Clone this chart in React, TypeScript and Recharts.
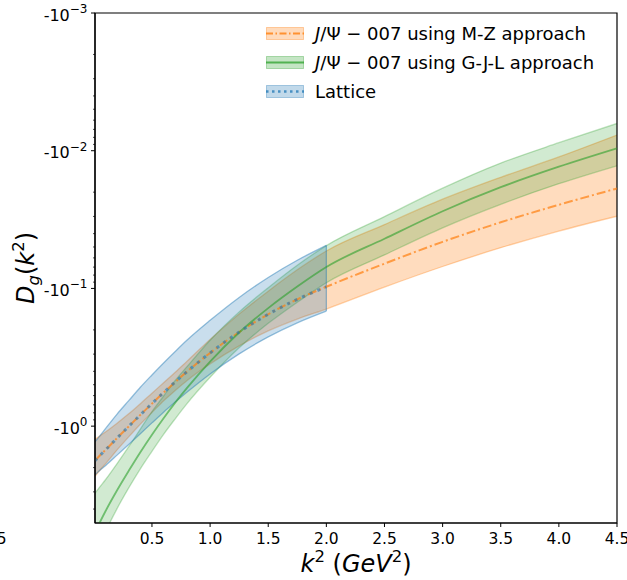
import React from 'react';
import { ComposedChart, Area, Line, XAxis, YAxis, Legend, ReferenceArea, ReferenceLine } from 'recharts';

// k^2 sample points (GeV^2)
const kValues = [0.01, 0.05, 0.1, 0.2, 0.3, 0.4, 0.5, 0.6, 0.7, 0.8, 1.0, 1.25, 1.5, 1.75, 2.0, 2.5, 3.0, 3.5, 4.0, 4.5];

// |D_g| magnitudes (plotted as -value on a log axis)
const mzCenter = [1.78, 1.64, 1.49, 1.22, 1.005, 0.828, 0.686, 0.57, 0.478, 0.403, 0.294, 0.2075, 0.154, 0.12, 0.0973, 0.0661, 0.0459, 0.0331, 0.0247, 0.0188];
const mzLow = [1.246, 1.181, 1.103, 0.952, 0.814, 0.687, 0.576, 0.4845, 0.406, 0.3385, 0.235, 0.1536, 0.1047, 0.0732, 0.0535, 0.0344, 0.0225, 0.0156, 0.0111, 0.0077];
const mzHigh = [2.314, 2.099, 1.877, 1.488, 1.196, 0.969, 0.796, 0.6555, 0.55, 0.4675, 0.353, 0.2615, 0.2033, 0.1668, 0.1411, 0.0978, 0.0693, 0.0506, 0.0383, 0.0299];

const gjlCenter = [5.9, 5.03, 4.15, 2.92, 2.11, 1.545, 1.153, 0.875, 0.675, 0.53, 0.34, 0.209, 0.139, 0.0969, 0.0699, 0.0436, 0.0275, 0.0184, 0.01306, 0.0096];
const gjlLow = [3.07, 2.77, 2.45, 1.87, 1.41, 1.05, 0.784, 0.604, 0.466, 0.371, 0.238, 0.148, 0.0987, 0.0678, 0.0489, 0.0301, 0.0187, 0.0123, 0.00875, 0.00634];
const gjlHigh = [8.73, 7.29, 5.85, 3.97, 2.81, 2.04, 1.522, 1.146, 0.884, 0.689, 0.442, 0.27, 0.1793, 0.126, 0.0909, 0.0571, 0.0363, 0.0245, 0.01737, 0.01286];

// Lattice data stops at k^2 = 2.0
const latCenter = [1.78, 1.64, 1.49, 1.22, 1.005, 0.828, 0.686, 0.57, 0.478, 0.403, 0.294, 0.2075, 0.154, 0.12, 0.0973];
const latLow = [1.299, 1.181, 1.043, 0.817, 0.653, 0.522, 0.425, 0.348, 0.287, 0.238, 0.1705, 0.1162, 0.0832, 0.0624, 0.0487];
const latHigh = [2.261, 2.099, 1.937, 1.623, 1.357, 1.134, 0.947, 0.792, 0.669, 0.568, 0.4175, 0.2988, 0.2248, 0.1776, 0.146];

const xDomain = [0.01, 4.5];
const yDomain = [0.001, 5.05];
const xTicks = [0.5, 1.0, 1.5, 2.0, 2.5, 3.0, 3.5, 4.0, 4.5];
const yMajorTicks = [0.001, 0.01, 0.1, 1];
const yMinorTicks = [
  0.002, 0.003, 0.004, 0.005, 0.006, 0.007, 0.008, 0.009,
  0.02, 0.03, 0.04, 0.05, 0.06, 0.07, 0.08, 0.09,
  0.2, 0.3, 0.4, 0.5, 0.6, 0.7, 0.8, 0.9,
  2, 3, 4,
];
const yExponents = ['\u22123', '\u22122', '\u22121', '0'];

const legendItems = [
  { key: 'mz', color: '#ff7f0e', dash: '7 2.5 1.5 2.5', width: 2, lineOpacity: 0.8, label: 'using M-Z approach' },
  { key: 'gjl', color: '#2ca02c', dash: undefined, width: 2, lineOpacity: 0.75, label: 'using G-J-L approach' },
  { key: 'lat', color: '#1f77b4', dash: '2.5 3.5', width: 2.5, lineOpacity: 0.75, label: 'Lattice' },
];

const data = kValues.map((k, i) => ({
  k,
  mz: [mzLow[i], mzHigh[i]],
  mzC: mzCenter[i],
  gjl: [gjlLow[i], gjlHigh[i]],
  gjlC: gjlCenter[i],
  lat: i < latCenter.length ? [latLow[i], latHigh[i]] : null,
  latC: i < latCenter.length ? latCenter[i] : null,
}));

const latLast = latCenter.length - 1;

const FONT = '"DejaVu Sans", sans-serif';

const isMajor = (v: number) => yMajorTicks.some((m) => Math.abs(m - v) / m < 1e-6);

const YTick = (props: any) => {
  const { x, y, payload } = props;
  const v = payload.value;
  const major = isMajor(v);
  const idx = yMajorTicks.findIndex((m) => Math.abs(m - v) / m < 1e-6);
  return (
    <g>
      <line x1={x} x2={x - (major ? 4 : 2)} y1={y} y2={y} stroke="#000" strokeWidth={major ? 1 : 0.7} />
      {major && (
        <text x={x - 7.5} y={y + 7.5} textAnchor="end" fontSize={16} fontFamily={FONT} fill="#000">
          -10<tspan dy={-7.5} fontSize={12}>{yExponents[idx]}</tspan>
        </text>
      )}
    </g>
  );
};

const XTick = (props: any) => {
  const { x, y, payload } = props;
  return (
    <g>
      <line x1={x} x2={x} y1={y} y2={y + 4} stroke="#000" strokeWidth={1} />
      <text x={x} y={y + 21} textAnchor="middle" fontSize={15.5} fontFamily={FONT} fill="#000">
        {Number(payload.value).toFixed(1)}
      </text>
    </g>
  );
};

const XLabel = (props: any) => {
  const vb = props.viewBox || {};
  const cx = vb.x + vb.width / 2;
  const by = vb.y + 48.5;
  return (
    <g>
      <text x={cx} y={by} textAnchor="middle" fontSize={24} fontFamily={FONT} fill="#000">
        <tspan fontStyle="italic">k</tspan>
        <tspan dy={-10} fontSize={16.5}>2</tspan>
        <tspan dy={10}> (</tspan>
        <tspan fontStyle="italic">GeV</tspan>
        <tspan dy={-10} fontSize={16.5}>2</tspan>
        <tspan dy={10}>)</tspan>
      </text>
      <text x={6.5} y={vb.y + 21} textAnchor="end" fontSize={15.5} fontFamily={FONT} fill="#000">5</text>
    </g>
  );
};

const YLabel = (props: any) => {
  const vb = props.viewBox || {};
  const cy = vb.y + vb.height / 2;
  const bx = 34;
  return (
    <text x={bx} y={cy} transform={`rotate(-90, ${bx}, ${cy})`} textAnchor="middle" fontSize={24} fontFamily={FONT} fill="#000">
      <tspan fontStyle="italic">D</tspan>
      <tspan dy={5} fontSize={16.5} fontStyle="italic">g</tspan>
      <tspan dy={-5}>(</tspan>
      <tspan fontStyle="italic">k</tspan>
      <tspan dy={-10} fontSize={16.5}>2</tspan>
      <tspan dy={10}>)</tspan>
    </text>
  );
};

const LegendContent = () => (
  <div style={{ fontFamily: FONT, fontSize: 18, color: '#000' }}>
    {legendItems.map((it) => (
      <div key={it.key} style={{ display: 'flex', alignItems: 'center', height: 29 }}>
        <svg width={38} height={29} style={{ display: 'block', flex: 'none' }}>
          <rect x={0.5} y={8.5} width={37} height={12} fill={it.color} fillOpacity={0.28} stroke={it.color} strokeOpacity={0.35} />
          <line x1={0} x2={38} y1={14.5} y2={14.5} stroke={it.color} strokeOpacity={it.lineOpacity} strokeWidth={it.width} strokeDasharray={it.dash} />
        </svg>
        <span style={{ marginLeft: 11, whiteSpace: 'nowrap' }}>
          {it.key !== 'lat' ? (
            <>
              <i>J</i>/Ψ − 007 {it.label}
            </>
          ) : (
            it.label
          )}
        </span>
      </div>
    ))}
  </div>
);

export default function App() {
  return (
    <div style={{ position: 'absolute', left: 0, top: 0, width: 627, height: 580, background: '#fff' }}>
      <ComposedChart width={627} height={580} data={data} margin={{ top: 13, right: 10, bottom: 0, left: 0 }}>
        <XAxis
          dataKey="k"
          type="number"
          domain={xDomain}
          allowDataOverflow
          ticks={xTicks}
          interval={0}
          height={57}
          tickSize={0}
          tickMargin={0}
          tickLine={false}
          tick={<XTick />}
          axisLine={{ stroke: '#000', strokeWidth: 1.2 }}
          label={<XLabel />}
        />
        <YAxis
          type="number"
          scale="log"
          domain={yDomain}
          reversed
          allowDataOverflow
          width={95}
          ticks={[...yMajorTicks, ...yMinorTicks]}
          interval={0}
          tickSize={0}
          tickMargin={0}
          tickLine={false}
          tick={<YTick />}
          axisLine={{ stroke: '#000', strokeWidth: 1.2 }}
          label={<YLabel />}
        />
        <Area dataKey="mz" type="monotone" fill="#ff7f0e" fillOpacity={0.27} stroke="#ff7f0e" strokeOpacity={0.35} strokeWidth={1.3} dot={false} activeDot={false} isAnimationActive={false} />
        <Area dataKey="gjl" type="monotone" fill="#2ca02c" fillOpacity={0.22} stroke="#2ca02c" strokeOpacity={0.3} strokeWidth={1.3} dot={false} activeDot={false} isAnimationActive={false} />
        <Area dataKey="lat" type="monotone" fill="#1f77b4" fillOpacity={0.24} stroke="#1f77b4" strokeOpacity={0.45} strokeWidth={1.3} dot={false} activeDot={false} isAnimationActive={false} />
        <ReferenceLine
          segment={[
            { x: kValues[latLast], y: latLow[latLast] },
            { x: kValues[latLast], y: latHigh[latLast] },
          ]}
          stroke="#1f77b4"
          strokeOpacity={0.45}
          strokeWidth={1.3}
        />
        <Line dataKey="mzC" type="monotone" stroke="#ff7f0e" strokeOpacity={0.7} strokeWidth={2} strokeDasharray="9 3 2 3" dot={false} activeDot={false} isAnimationActive={false} />
        <Line dataKey="gjlC" type="monotone" stroke="#2ca02c" strokeOpacity={0.6} strokeWidth={1.8} dot={false} activeDot={false} isAnimationActive={false} />
        <Line dataKey="latC" type="monotone" stroke="#1f77b4" strokeOpacity={0.6} strokeWidth={3} strokeDasharray="3 5.3" dot={false} activeDot={false} isAnimationActive={false} />
        <ReferenceArea
          x1={xDomain[0]}
          x2={xDomain[1]}
          y1={yDomain[0]}
          y2={yDomain[1]}
          fill="none"
          fillOpacity={0}
          stroke="#000"
          strokeWidth={1.2}
          strokeOpacity={1}
          ifOverflow="visible"
        />
        <Legend
          layout="horizontal"
          verticalAlign="middle"
          align="center"
          width={350}
          wrapperStyle={{ left: 266, top: 19, width: 350, height: 90 }}
          content={<LegendContent />}
        />
      </ComposedChart>
    </div>
  );
}
